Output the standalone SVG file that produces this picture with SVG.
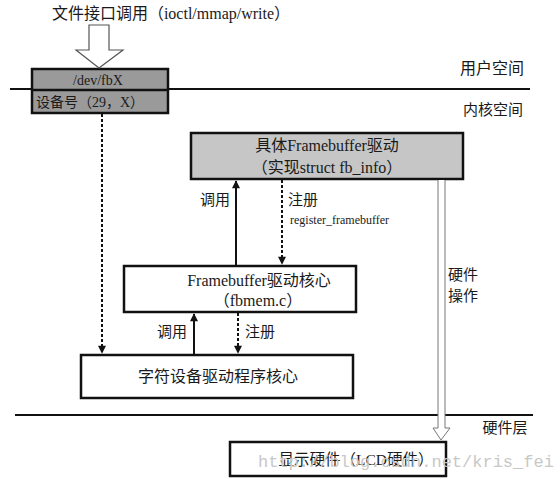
<svg xmlns="http://www.w3.org/2000/svg" width="560" height="479" viewBox="0 0 560 479">
<defs>
<style>
text{font-family:"Liberation Serif","Noto Sans CJK SC",serif;font-size:16px;fill:#1a1a1a}
.c{text-anchor:middle}
.s15{font-size:15px}
.s14{font-size:14px}
.box{stroke:#111;stroke-width:2.5}
.layer{stroke:#111;stroke-width:2}
.sol{stroke:#111;stroke-width:2;fill:none}
.dash{stroke:#111;stroke-width:2;fill:none;stroke-dasharray:3,2}
.wm{font-family:"Liberation Mono",monospace;font-size:17px;fill:#c8c8c8}
</style>
<marker id="ah" viewBox="0 0 10 10" refX="9" refY="5" markerWidth="10" markerHeight="8" orient="auto-start-reverse" markerUnits="userSpaceOnUse">
<path d="M0,0 L10,5 L0,10 z" fill="#111"/>
</marker>
</defs>
<rect width="560" height="479" fill="#fff"/>

<g id="layers">
<line class="layer" x1="10" y1="89" x2="530" y2="89"/>
<text x="492" y="74" class="c">用户空间</text>
<text x="493" y="115" class="c s15">内核空间</text>
<line class="layer" x1="15" y1="415" x2="533" y2="415"/>
<text x="505" y="433" class="c s15">硬件层</text>
</g>

<g id="title">
<text x="171" y="19" class="c">文件接口调用（ioctl/mmap/write）</text>
</g>

<g id="devfb">
<rect class="box" x="32" y="69" width="136" height="44" fill="#9a9a9a"/>
<line class="box" x1="32" y1="90" x2="168" y2="90"/>
<text x="98" y="85" class="c s14">/dev/fbX</text>
<text x="36" y="107" class="s14">设备号（29，X）</text>
</g>

<g id="fbdriver">
<rect class="box" x="191" y="133" width="272" height="46" fill="#c6c6c6"/>
<text x="327" y="151" class="c">具体Framebuffer驱动</text>
<text x="327" y="173" class="c">（实现struct fb_info）</text>
</g>

<g id="fbcore">
<rect class="box" x="124" y="266" width="232" height="46" fill="#fff"/>
<text x="259" y="286" class="c">Framebuffer驱动核心</text>
<text x="258" y="306" class="c">（fbmem.c）</text>
</g>

<g id="chardev">
<rect class="box" x="81" y="355" width="272" height="43" fill="#fff"/>
<text x="218" y="382" class="c">字符设备驱动程序核心</text>
</g>

<g id="lcd">
<rect class="box" x="230" y="442" width="216" height="34" fill="#fff"/>
<text x="356" y="465" class="c" style="font-size:15.5px">显示硬件（LCD硬件）</text>
</g>

<g id="connectors">
<path d="M89,25 H109 V50 H123 L99,68 L76,50 H89 Z" fill="#fff" stroke="#555" stroke-width="1.2"/>
<line class="dash" x1="102" y1="114" x2="102" y2="353" marker-end="url(#ah)"/>
<line class="sol" x1="236" y1="265" x2="236" y2="181" marker-end="url(#ah)"/>
<line class="dash" x1="282" y1="180" x2="282" y2="264" marker-end="url(#ah)"/>
<line class="sol" x1="194" y1="354" x2="194" y2="314" marker-end="url(#ah)"/>
<line class="dash" x1="238" y1="313" x2="238" y2="353" marker-end="url(#ah)"/>
<path d="M438,180 V428 H433 L441,440 L450,428 H445 V180" fill="#fff" stroke="#777" stroke-width="1"/>
<text x="200" y="205" class="s15">调用</text>
<text x="288" y="205" class="s15">注册</text>
<text x="290" y="224" style="font-size:12px">register_framebuffer</text>
<text x="157" y="337" class="s15">调用</text>
<text x="245" y="337" class="s15">注册</text>
<text x="448" y="280" class="s15">硬件</text>
<text x="448" y="301" class="s15">操作</text>
</g>

<text x="258" y="467" class="wm">http://blog.csdn.net/kris_fei</text>
</svg>
